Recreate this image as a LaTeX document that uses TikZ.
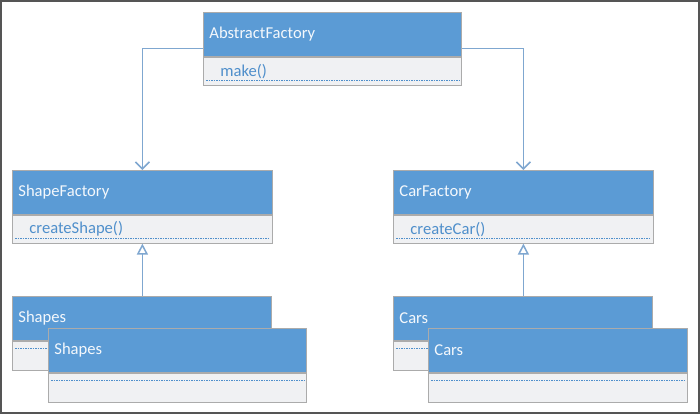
\documentclass[tikz,border=0pt]{standalone}
\usepackage{fontspec}
\setmainfont{Carlito}
\usetikzlibrary{arrows.meta,positioning}
\definecolor{hdr}{HTML}{5B9BD5}
\definecolor{bodyc}{HTML}{F0F1F3}
\definecolor{edge}{HTML}{ABABAB}
\definecolor{meth}{HTML}{4F8FCB}
\definecolor{lnk}{HTML}{7FA7D0}
\definecolor{frame}{HTML}{555555}
\tikzset{
  hdrbox/.style={fill=hdr, draw=edge, line width=0.8pt, anchor=north west,
    minimum height=44pt, inner xsep=6pt, inner ysep=0pt, align=left,
    text=white!93!hdr, font=\fontsize{16.6}{18}\selectfont},
  bodybox/.style={fill=bodyc, draw=edge, line width=0.8pt, anchor=north west,
    inner xsep=17pt, inner ysep=0pt, align=left,
    text=meth, font=\fontsize{16.6}{18}\selectfont},
  sep/.style={meth, line width=0.7pt, dash pattern=on 1.5pt off 1pt},
  conn/.style={lnk, line width=1.3pt},
  openv/.style={-{Straight Barb[length=7pt,width=14pt,line width=1.6pt]}},
  inh/.style={-{Triangle[open,length=11pt,width=11pt,line width=1.5pt]}}
}
\begin{document}
\begin{tikzpicture}[x=1pt,y=-1pt]
\useasboundingbox (0,0) rectangle (700,414);
\fill[white] (0,0) rectangle (700,414);
\draw[frame, line width=2pt] (1,1) rectangle (699,413);

% AbstractFactory
\node[hdrbox, text width=246pt] (af) at (203,12) {AbstractFactory};
\node[bodybox, text width=224pt, minimum height=28pt] (afb) at (af.south west) {make()};
\draw[sep] ([xshift=3pt,yshift=5pt]afb.south west) -- ([xshift=-3pt,yshift=5pt]afb.south east);

% ShapeFactory
\node[hdrbox, text width=248pt] (sf) at (12,170) {ShapeFactory};
\node[bodybox, text width=226pt, minimum height=28pt] (sfb) at (sf.south west) {createShape()};
\draw[sep] ([xshift=3pt,yshift=5pt]sfb.south west) -- ([xshift=-3pt,yshift=5pt]sfb.south east);

% CarFactory
\node[hdrbox, text width=248pt] (cf) at (393,170) {CarFactory};
\node[bodybox, text width=226pt, minimum height=28pt] (cfb) at (cf.south west) {createCar()};
\draw[sep] ([xshift=3pt,yshift=5pt]cfb.south west) -- ([xshift=-3pt,yshift=5pt]cfb.south east);

% Shapes (back)
\node[hdrbox, text width=247pt] (sh1) at (12,296) {Shapes};
\node[bodybox, text width=225pt, minimum height=29pt] (sh1b) at (sh1.south west) {};
\draw[sep] ([xshift=3pt,yshift=-8pt]sh1b.north west) -- ([xshift=-3pt,yshift=-8pt]sh1b.north east);
% Shapes (front)
\node[hdrbox, text width=246pt] (sh2) at (48,328) {Shapes};
\node[bodybox, text width=224pt, minimum height=29pt] (sh2b) at (sh2.south west) {};
\draw[sep] ([xshift=3pt,yshift=-8pt]sh2b.north west) -- ([xshift=-3pt,yshift=-8pt]sh2b.north east);

% Cars (back)
\node[hdrbox, text width=247pt] (ca1) at (393,296) {Cars};
\node[bodybox, text width=225pt, minimum height=29pt] (ca1b) at (ca1.south west) {};
\draw[sep] ([xshift=3pt,yshift=-8pt]ca1b.north west) -- ([xshift=-3pt,yshift=-8pt]ca1b.north east);
% Cars (front)
\node[hdrbox, text width=247pt] (ca2) at (428,328) {Cars};
\node[bodybox, text width=225pt, minimum height=29pt] (ca2b) at (ca2.south west) {};
\draw[sep] ([xshift=3pt,yshift=-8pt]ca2b.north west) -- ([xshift=-3pt,yshift=-8pt]ca2b.north east);

% connectors
\draw[conn, openv] ([yshift=-14pt]af.west) -| (sf.north);
\draw[conn, openv] ([yshift=-14pt]af.east) -| (cf.north);
\draw[conn, inh] (sh1.north -| sfb.south) -- (sfb.south);
\draw[conn, inh] (ca1.north -| cfb.south) -- (cfb.south);
\end{tikzpicture}
\end{document}
